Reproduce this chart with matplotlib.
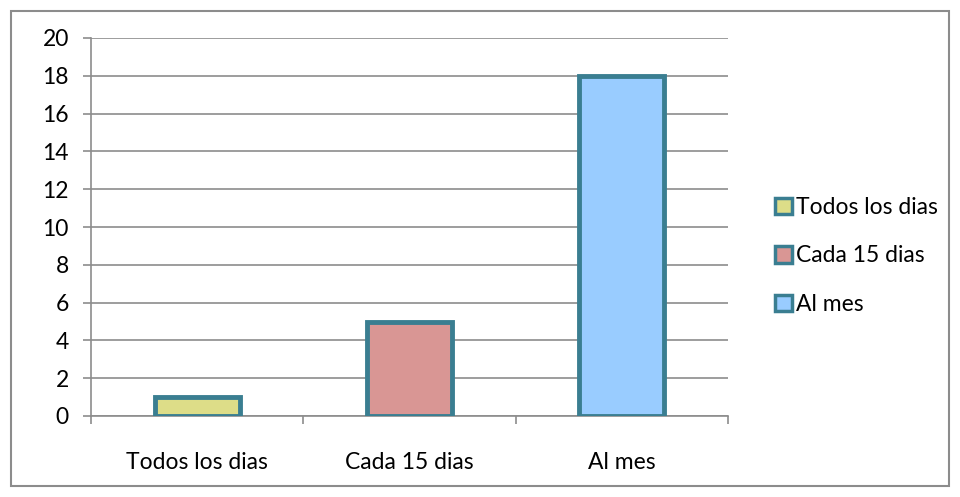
import matplotlib
matplotlib.use('Agg')
import matplotlib.pyplot as plt
import matplotlib.patches as mpatches

plt.rcParams['font.family'] = ['Lato', 'DejaVu Sans']

# datos
categories = ['Todos los dias', 'Cada 15 dias', 'Al mes']
values = [1, 5, 18]
colors = ['#DDDD88', '#D99694', '#99CCFF']
edge = '#3A7E91'
grid_color = '#8C8C8C'

fig = plt.figure(figsize=(9.6, 4.97), dpi=100)
ax = fig.add_axes([91/960, 1 - 416/497, (728 - 91)/960, (416 - 38)/497])

x = range(len(categories))
bars = ax.bar(x, values, width=0.4, color=colors, edgecolor=edge,
              linewidth=3.5, zorder=3, label=categories)

ax.set_xlim(-0.5, 2.5)
ax.set_ylim(0, 20)
ax.set_yticks(range(0, 21, 2))
ax.yaxis.grid(True, color=grid_color, linewidth=1.2, zorder=0)

# marcas del eje x en los limites de categorias
ax.set_xticks([-0.5, 0.5, 1.5, 2.5])
ax.set_xticklabels([])
ax.set_xticks(list(x), minor=True)
ax.set_xticklabels(categories, minor=True)
ax.tick_params(axis='x', which='minor', length=0, pad=26, labelsize=16.5)
ax.tick_params(axis='x', which='major', length=6, color=grid_color, width=1.2)
ax.tick_params(axis='y', length=6, color=grid_color, width=1.2, labelsize=16.5, pad=10)

for side in ['top', 'right']:
    ax.spines[side].set_visible(False)
for side in ['left', 'bottom']:
    ax.spines[side].set_color(grid_color)
    ax.spines[side].set_linewidth(1.2)

handles = [mpatches.Patch(facecolor=c, edgecolor=edge, linewidth=2.5) for c in colors]
fig.legend(handles, categories, loc='center left', bbox_to_anchor=(764/960, 1 - 256/497),
           frameon=False, fontsize=16.5, handlelength=0.7, handleheight=0.7,
           handletextpad=0.2, labelspacing=1.2, borderpad=0)

# borde exterior
border = mpatches.Rectangle((11/960, 11/497), 938/960, 475/497, transform=fig.transFigure,
                            fill=False, edgecolor='#8C8C8C', linewidth=1.5)
fig.patches.append(border)

fig.savefig('out.png', dpi=100, facecolor='white')
plt.close()
